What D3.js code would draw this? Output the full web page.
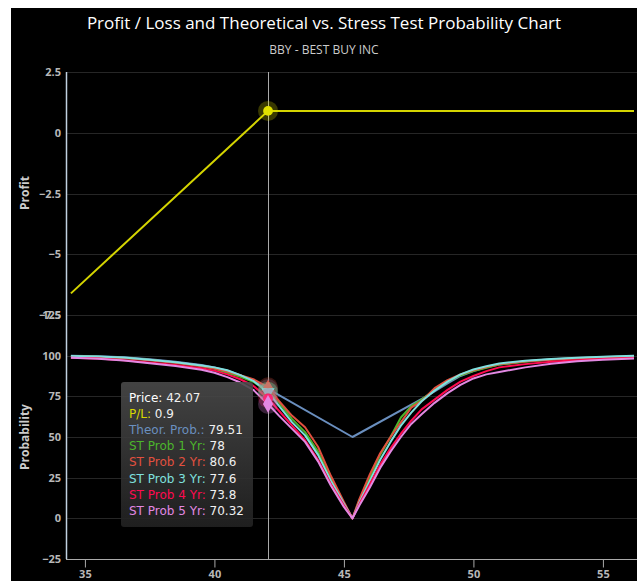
<!DOCTYPE html>
<html><head><meta charset="utf-8">
<script src="https://cdn.jsdelivr.net/npm/d3@7"></script>
<style>body{margin:0;background:#fff;} svg{display:block;font-family:"Open Sans",sans-serif;}</style>
</head><body><svg id="c" width="640" height="581"></svg>
<script>
// ---- data ----
const prices = [34.46, 35.5, 36.5, 37.5, 38.5, 39.5, 40.0, 40.5, 41.0, 41.5, 42.07,
  42.5, 43.0, 43.5, 44.0, 44.5, 45.0, 45.33,
  45.6, 46.0, 46.4, 46.8, 47.2, 47.6, 48.0, 48.5, 49.0, 49.5, 50.0, 50.5, 51.0, 52.0, 53.0, 54.0, 55.0, 56.2];
const st1 = [99.6, 99.3, 98.6, 97.3, 95.7, 93.5, 92.0, 89.5, 87.0, 84.0, 78.0,
  71, 61, 53, 41, 24, 9, 0,
  11, 25, 39, 50, 62, 69, 73, 79, 84, 88, 90.5, 92.5, 94.5, 96.3, 97.6, 98.4, 99.0, 99.6];
const st2 = [99.5, 99.2, 98.5, 97.2, 95.6, 93.6, 92.2, 90.2, 88.0, 85.5, 80.6,
  72, 63, 56, 44, 26, 10, 0,
  12, 27, 40, 50, 59, 68, 72, 80, 85, 88.5, 91, 93, 94.8, 96.5, 97.5, 98.3, 98.9, 99.4];
const st3 = [99.8, 99.5, 98.8, 97.5, 96.0, 94.0, 92.8, 91.0, 88.0, 84.5, 77.6,
  69, 59, 51, 39, 23, 9, 0,
  10, 23, 36, 47, 57, 65, 72, 78.5, 84, 88.5, 91.5, 93.5, 95.2, 96.9, 97.9, 98.7, 99.3, 99.9];
const st4 = [98.7, 98.2, 97.2, 95.8, 94.3, 92.3, 90.8, 88.5, 85.5, 81.5, 73.8,
  66, 57, 48, 36, 21, 8, 0,
  9, 21, 33, 43, 52, 60, 67, 73, 79, 84, 87.5, 90.5, 92.8, 94.8, 96.2, 97.2, 97.9, 98.5];
const st5 = [98.7, 98.1, 97.0, 95.4, 93.6, 91.3, 89.5, 86.8, 83.5, 79.0, 70.32,
  63, 55, 47, 35, 20, 7, 0,
  8, 19, 31, 41, 50, 58, 64, 71, 77, 82, 86, 88.5, 90, 92.8, 95, 96.6, 97.5, 98.3];
const theorPrices = [34.46, 35.5, 36.5, 37.5, 38.5, 39.5, 40.0, 40.5, 41.0, 41.5, 42.07, 45.33, 48.13,
  48.5, 49.0, 49.5, 50.0, 50.5, 51.0, 52.0, 53.0, 54.0, 55.0, 56.2];
const theorValues = [99.9, 99.6, 99.0, 97.8, 96.2, 94.2, 92.8, 90.8, 88.0, 84.5, 79.51, 50, 74.5,
  78, 83, 87.5, 90.5, 92.8, 94.5, 96.5, 97.8, 98.6, 99.2, 99.7];
const profitPrices = [34.46, 42.07, 56.2];
const profitValues = [-6.61, 0.9, 0.9];
const xTicks = [35, 40, 45, 50, 55];
const profitTicks = [-7.5, -5, -2.5, 0, 2.5];
const probTicks = [-25, 0, 25, 50, 75, 100, 125];
const hoverPrice = 42.07;
const hoverPL = 0.9;
const seriesNames = ["Theor. Prob.", "ST Prob 1 Yr", "ST Prob 2 Yr", "ST Prob 3 Yr", "ST Prob 4 Yr", "ST Prob 5 Yr"];
const seriesColors = ["#6a8fbf", "#4cb52c", "#e2503f", "#7fe0df", "#ff0a50", "#e288e2"];
const seriesSymbols = ["diamond", "square", "triangle", "triangle-down", "circle", "diamond"];
const hoverValues = [79.51, 78, 80.6, 77.6, 73.8, 70.32];

// ---- layout ----
const svg = d3.select("#c");
const L = 66, R = 634;
svg.append("rect").attr("x", 11).attr("y", 8).attr("width", 626).attr("height", 573).attr("fill", "#000");

const x = d3.scaleLinear().domain([34.27, 56.2]).range([L, R]);
const yP = d3.scaleLinear().domain([-7.5, 2.5]).range([315, 72]);
const yQ = d3.scaleLinear().domain([-25, 125]).range([559, 315]);

// title
svg.append("text").attr("x", 324).attr("y", 29).attr("text-anchor", "middle")
  .attr("fill", "#fff").attr("font-size", 17).text("Profit / Loss and Theoretical vs. Stress Test Probability Chart");
svg.append("text").attr("x", 324).attr("y", 54).attr("text-anchor", "middle")
  .attr("fill", "#ccc").attr("font-size", 12).text("BBY - BEST BUY INC");

// gridlines
const grid = svg.append("g").attr("stroke", "#262626").attr("stroke-width", 1);
profitTicks.forEach(t => grid.append("line").attr("x1", L).attr("x2", R + 3).attr("y1", Math.round(yP(t)) + 0.5).attr("y2", Math.round(yP(t)) + 0.5));
probTicks.filter(t => t > -25).forEach(t => grid.append("line").attr("x1", L).attr("x2", R + 3).attr("y1", Math.round(yQ(t)) + 0.5).attr("y2", Math.round(yQ(t)) + 0.5));

// y axes
function yAxis(scale, ticks) {
  const g = svg.append("g").attr("transform", `translate(${L},0)`)
    .call(d3.axisLeft(scale).tickValues(ticks).tickSize(0).tickPadding(5).tickFormat(d3.format("")));
  g.select(".domain").remove();
  g.selectAll("text").attr("fill", "#b8b8b8").attr("font-size", 11).attr("font-weight", "bold").attr("font-family", "Open Sans, sans-serif");
  return g;
}
yAxis(yP, profitTicks);
yAxis(yQ, probTicks);
svg.append("line").attr("x1", L + 0.5).attr("x2", L + 0.5).attr("y1", 72).attr("y2", 559).attr("stroke", "#c0d0e0").attr("stroke-width", 1.5);

svg.append("text").attr("transform", "translate(29,193) rotate(-90)").attr("text-anchor", "middle")
  .attr("fill", "#ccc").attr("font-size", 12).attr("font-weight", "bold").text("Profit");
svg.append("text").attr("transform", "translate(29,437) rotate(-90)").attr("text-anchor", "middle")
  .attr("fill", "#ccc").attr("font-size", 12).attr("font-weight", "bold").text("Probability");

// x axis
const gx = svg.append("g").attr("transform", "translate(0,559.5)")
  .call(d3.axisBottom(x).tickValues(xTicks).tickSize(8).tickPadding(3).tickFormat(d3.format("d")));
gx.select(".domain").attr("stroke", "#aaa").attr("d", `M${L},0H${R + 3}`);
gx.selectAll(".tick line").attr("stroke", "#aaa");
gx.selectAll("text").attr("fill", "#b8b8b8").attr("font-size", 11).attr("font-weight", "bold").attr("font-family", "Open Sans, sans-serif");

// crosshair
svg.append("line").attr("x1", Math.round(x(hoverPrice)) + 0.5).attr("x2", Math.round(x(hoverPrice)) + 0.5)
  .attr("y1", 72).attr("y2", 559).attr("stroke", "#aaa").attr("stroke-width", 1);

// lines
const lineP = d3.line().x((d, i) => x(profitPrices[i])).y(d => yP(d));
svg.append("path").datum(profitValues).attr("d", lineP).attr("fill", "none").attr("stroke", "#d4d400").attr("stroke-width", 2);

const allSeries = [
  {p: theorPrices, v: theorValues},
  {p: prices, v: st1}, {p: prices, v: st2}, {p: prices, v: st3}, {p: prices, v: st4}, {p: prices, v: st5}
];
allSeries.forEach((s, k) => {
  const ln = d3.line().x((d, i) => x(s.p[i])).y(d => yQ(d));
  svg.append("path").datum(s.v).attr("d", ln).attr("fill", "none")
    .attr("stroke", seriesColors[k]).attr("stroke-width", 2).attr("stroke-linejoin", "round");
});

// markers
const symMap = {circle: d3.symbolCircle, diamond: d3.symbolDiamond, square: d3.symbolSquare, triangle: d3.symbolTriangle, "triangle-down": d3.symbolTriangle};
function marker(cx, cy, color, sym) {
  svg.append("circle").attr("cx", cx).attr("cy", cy).attr("r", 10).attr("fill", color).attr("opacity", 0.25);
  const s = d3.symbol().type(symMap[sym]).size(sym === "diamond" ? 90 : 75);
  svg.append("path").attr("d", s()).attr("fill", color)
    .attr("transform", `translate(${cx},${cy})` + (sym === "triangle-down" ? " rotate(180)" : ""));
}
marker(x(hoverPrice), yP(hoverPL), "#e0e000", "circle");
hoverValues.forEach((v, k) => marker(x(hoverPrice), yQ(v), seriesColors[k], seriesSymbols[k]));

// tooltip
const defs = svg.append("defs");
const grad = defs.append("linearGradient").attr("id", "tg").attr("x1", 0).attr("y1", 0).attr("x2", 0).attr("y2", 1);
grad.append("stop").attr("offset", 0).attr("stop-color", "#4a4a4a");
grad.append("stop").attr("offset", 1).attr("stop-color", "#222");
svg.append("rect").attr("x", 121).attr("y", 382).attr("width", 132).attr("height", 145).attr("rx", 3)
  .attr("fill", "url(#tg)").attr("opacity", 0.9);
const rows = [["Price", "#fff", hoverPrice], ["P/L", "#d8d800", hoverPL]]
  .concat(seriesNames.map((n, k) => [n, seriesColors[k], hoverValues[k]]));
rows.forEach((r, i) => {
  const t = svg.append("text").attr("x", 129).attr("y", 402 + i * 16.1)
    .attr("font-size", 12).attr("font-family", "DejaVu Sans, sans-serif");
  t.append("tspan").attr("fill", r[1]).text(r[0] + ":");
  t.append("tspan").attr("fill", "#f0f0f0").text(" " + r[2]);
});
</script></body></html>
